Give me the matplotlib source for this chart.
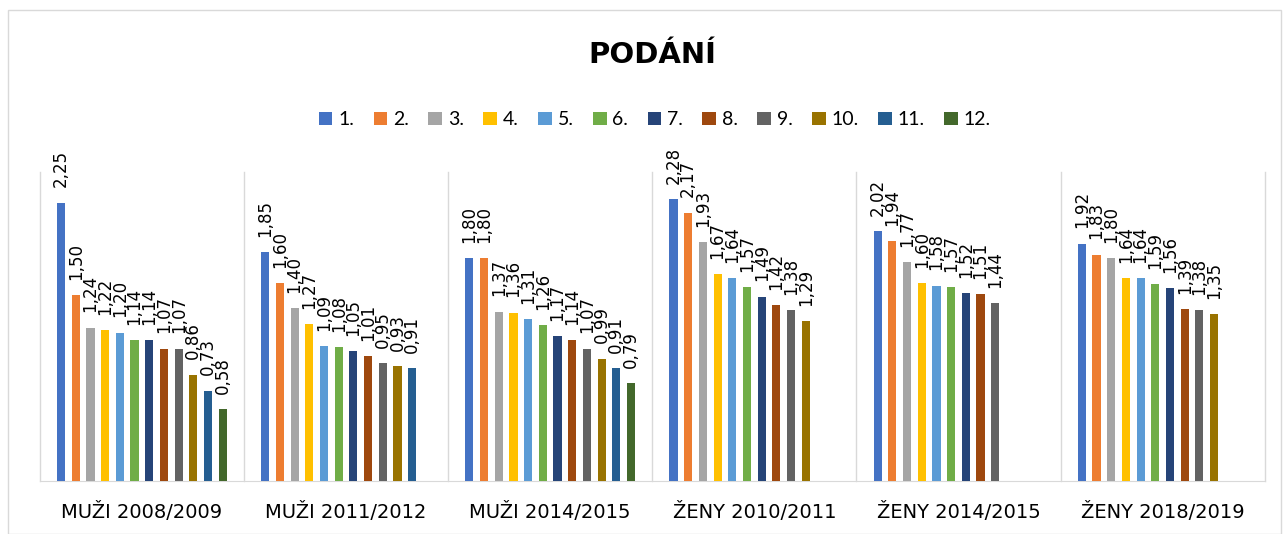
import matplotlib.pyplot as plt
from matplotlib.patches import Rectangle

plt.rcParams['font.family'] = ['Lato', 'DejaVu Sans']

groups = ['MUŽI 2008/2009', 'MUŽI 2011/2012', 'MUŽI 2014/2015',
          'ŽENY 2010/2011', 'ŽENY 2014/2015', 'ŽENY 2018/2019']
ranks = ['1.', '2.', '3.', '4.', '5.', '6.', '7.', '8.', '9.', '10.', '11.', '12.']

muzi_0809 = [2.25, 1.50, 1.24, 1.22, 1.20, 1.14, 1.14, 1.07, 1.07, 0.86, 0.73, 0.58]
muzi_1112 = [1.85, 1.60, 1.40, 1.27, 1.09, 1.08, 1.05, 1.01, 0.95, 0.93, 0.91]
muzi_1415 = [1.80, 1.80, 1.37, 1.36, 1.31, 1.26, 1.17, 1.14, 1.07, 0.99, 0.91, 0.79]
zeny_1011 = [2.28, 2.17, 1.93, 1.67, 1.64, 1.57, 1.49, 1.42, 1.38, 1.29]
zeny_1415 = [2.02, 1.94, 1.77, 1.60, 1.58, 1.57, 1.52, 1.51, 1.44]
zeny_1819 = [1.92, 1.83, 1.80, 1.64, 1.64, 1.59, 1.56, 1.39, 1.38, 1.35]

values = [muzi_0809, muzi_1112, muzi_1415, zeny_1011, zeny_1415, zeny_1819]

colors = ['#4472C4', '#ED7D31', '#A5A5A5', '#FFC000', '#5B9BD5', '#70AD47',
          '#264478', '#9E480E', '#636363', '#997300', '#255E91', '#43682B']

fig = plt.figure(figsize=(12.84, 5.34), dpi=100)
ax = fig.add_axes([0.031, 0.0993, 0.954, 0.579])

slot = 0.072
width = 0.04
for k, rank in enumerate(ranks):
    xs, ys = [], []
    for g, vals in enumerate(values):
        if k < len(vals):
            xs.append(g + (k - 5.5) * slot)
            ys.append(vals[k])
    ax.bar(xs, ys, width=width, color=colors[k], label=rank, zorder=3)
    for x, y in zip(xs, ys):
        ax.annotate(f'{y:.2f}'.replace('.', ','), (x, y), xytext=(0, 11),
                    textcoords='offset points', rotation=90, ha='center',
                    va='bottom', fontsize=12, family='DejaVu Sans',
                    color='#000000')

ax.set_xlim(-0.5, 5.5)
ax.set_ylim(0, 2.5)
ax.set_yticks([])
ax.set_xticks(range(len(groups)))
ax.set_xticklabels(groups)
ax.tick_params(axis='x', length=0, pad=15)
for lbl in ax.get_xticklabels():
    lbl.set_fontproperties({'family': ['DejaVu Sans'], 'size': 14})
for s in ['top', 'left', 'right']:
    ax.spines[s].set_visible(False)
ax.spines['bottom'].set_color('#d9d9d9')
for b in [-0.5, 0.5, 1.5, 2.5, 3.5, 4.5, 5.5]:
    ax.axvline(b, color='#d9d9d9', lw=1, zorder=1, clip_on=False)

fig.text(0.508, 0.897, 'PODÁNÍ', ha='center', va='center', fontsize=21,
         fontweight='bold', family='DejaVu Sans', color='#000000')

fig.legend(loc='center', bbox_to_anchor=(0.51, 0.776), ncol=12, frameon=False,
           fontsize=14, handlelength=0.7, handleheight=0.7, handletextpad=0.3,
           columnspacing=1.0)

fig.patches.append(Rectangle((0.006, 0.0), 0.992, 0.982, transform=fig.transFigure,
                             fill=False, edgecolor='#d9d9d9', lw=1))

fig.savefig('out.png', dpi=100)
